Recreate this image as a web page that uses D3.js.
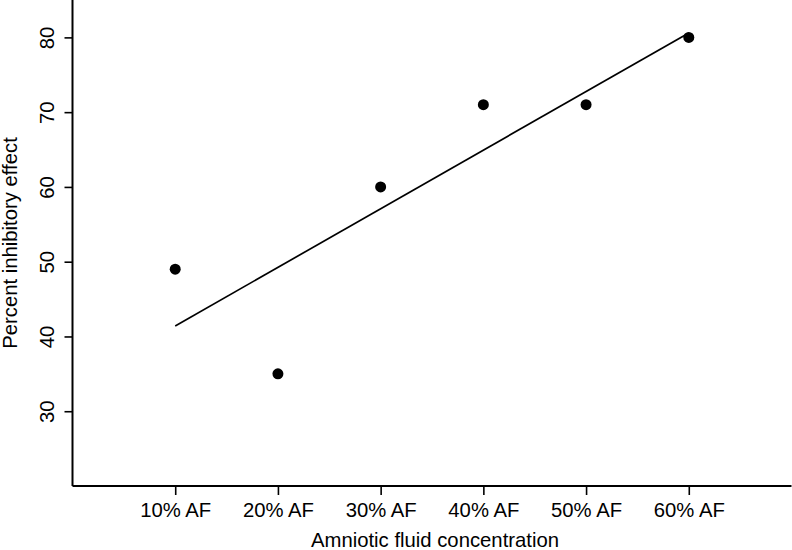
<!DOCTYPE html>
<html>
  <head>
    <meta charset="utf-8">
    <script src="https://cdn.jsdelivr.net/npm/d3@7"></script>
    <style>
      body { margin: 0; background: #fff; }
      text { font-family: 'Liberation Sans', Arial, sans-serif; fill: #000; }
    </style>
  </head>
  <body>
    <svg width="792" height="550"></svg>
    <script>
      // data
      const categories = ['10% AF', '20% AF', '30% AF', '40% AF', '50% AF', '60% AF'];
      const effect = [49, 35, 60, 71, 71, 80];
      const fitEnds = [41.4, 80.6]; // fitted line at first and last category
      const yTicks = [30, 40, 50, 60, 70, 80];
      const xLabel = 'Amniotic fluid concentration';
      const yLabel = 'Percent inhibitory effect';

      const fontSize = 20.3;
      const svg = d3.select('svg');
      const margin = { left: 72.5, right: 0.5, top: 0, bottom: 64 };
      const width = +svg.attr('width');
      const height = +svg.attr('height');
      const innerWidth = width - margin.left - margin.right;
      const innerHeight = height - margin.top - margin.bottom;

      const g = svg.append('g')
          .attr('transform', `translate(${margin.left},${margin.top})`);

      // categories sit at 1..6 on a 0..7 axis
      const xScale = d3.scaleLinear().domain([0, categories.length + 1]).range([0, innerWidth]);
      const yScale = d3.scaleLinear().domain([20, 85]).range([innerHeight, 0]);

      const xAxis = d3.axisBottom(xScale)
        .tickValues(d3.range(1, categories.length + 1))
        .tickFormat(i => categories[i - 1])
        .tickSize(9)
        .tickPadding(7.5);

      const yAxis = d3.axisLeft(yScale)
        .tickValues(yTicks)
        .tickSize(8)
        .tickPadding(0);

      const xAxisG = g.append('g')
          .attr('transform', `translate(0,${innerHeight})`)
          .call(xAxis);
      xAxisG.select('.domain').attr('d', `M0,0H${innerWidth}`);

      const yAxisG = g.append('g').call(yAxis);
      yAxisG.select('.domain').attr('d', `M0,${innerHeight}V0`);

      g.selectAll('.domain').attr('stroke', '#000').attr('stroke-width', 2);
      g.selectAll('.tick line').attr('stroke', '#000').attr('stroke-width', 1.6);
      g.selectAll('.tick text')
        .attr('font-size', fontSize)
        .attr('font-family', "'Liberation Sans', Arial, sans-serif")
        .attr('fill', '#000');

      yAxisG.selectAll('.tick text')
        .attr('x', null).attr('dy', null)
        .attr('text-anchor', 'middle')
        .attr('transform', 'translate(-18.5,0) rotate(-90)');

      xAxisG.selectAll('.tick text').attr('dy', '0.71em');

      // fitted line
      const fit = [[1, fitEnds[0]], [categories.length, fitEnds[1]]];
      g.append('path')
          .attr('d', d3.line().x(d => xScale(d[0])).y(d => yScale(d[1]))(fit))
          .attr('fill', 'none')
          .attr('stroke', '#000')
          .attr('stroke-width', 1.7);

      // points
      g.selectAll('circle').data(effect).enter().append('circle')
          .attr('cx', (d, i) => xScale(i + 1))
          .attr('cy', d => yScale(d))
          .attr('r', 5.5)
          .attr('fill', '#000');

      // axis titles
      svg.append('text')
          .attr('x', margin.left + innerWidth / 2 + 3)
          .attr('y', 547)
          .attr('text-anchor', 'middle')
          .attr('font-size', fontSize)
          .text(xLabel);

      svg.append('text')
          .attr('transform', `translate(16.5,${margin.top + innerHeight / 2}) rotate(-90)`)
          .attr('text-anchor', 'middle')
          .attr('font-size', fontSize)
          .text(yLabel);
    </script>
  </body>
</html>
